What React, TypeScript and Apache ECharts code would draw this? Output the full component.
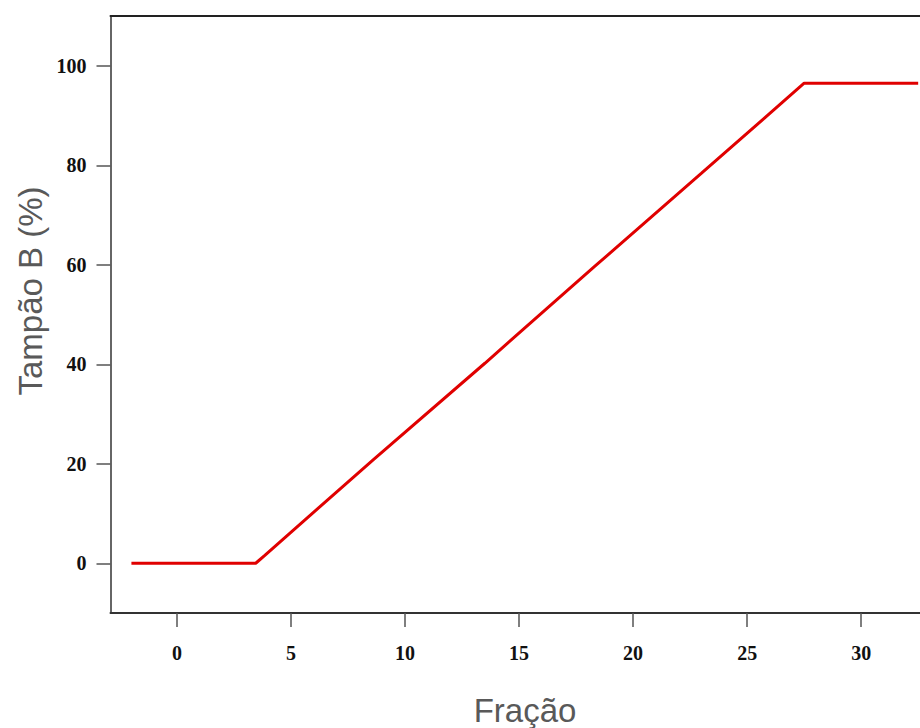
import React, { useEffect, useRef } from "react";
import * as echarts from "echarts";

const xValues = [-2, 3.45, 3.85, 8.6, 13.5, 18.3, 23.0, 27.5, 32.5];
const yValues = [0, 0, 1.6, 20.8, 40.2, 59.6, 78.4, 96.5, 96.5];
const xTicks = [0, 5, 10, 15, 20, 25, 30];
const yTicks = [0, 20, 40, 60, 80, 100];
const xName = "Fração";
const yName = "Tampão B (%)";

export default function App() {
  const ref = useRef<HTMLDivElement>(null);
  useEffect(() => {
    if (!ref.current) return;
    const chart = echarts.init(ref.current, null, { renderer: "svg" });
    const labelStyle = {
      fontFamily: "Liberation Serif",
      fontWeight: "bold" as const,
      fontSize: 20,
      color: "#111",
    };
    const nameStyle = {
      fontFamily: "Liberation Sans",
      fontSize: 33,
      fill: "#595959",
      textAlign: "center" as const,
      textVerticalAlign: "middle" as const,
    };
    chart.setOption({
      animation: false,
      backgroundColor: "#fff",
      grid: { left: 110.5, top: 16, right: 0, bottom: 115 },
      graphic: [
        { type: "text", x: 525, y: 710, style: { ...nameStyle, text: xName } },
        { type: "text", x: 30, y: 291, rotation: Math.PI / 2, style: { ...nameStyle, text: yName } },
      ],
      xAxis: [
        {
          type: "value",
          min: -2.917,
          max: 32.58,
          axisLine: { show: true, onZero: false, lineStyle: { color: "#333", width: 2 } },
          axisTick: { show: true, length: 14, customValues: xTicks, lineStyle: { color: "#555", width: 1.5 } },
          axisLabel: { ...labelStyle, margin: 30, customValues: xTicks },
          splitLine: { show: false },
        },
        {
          type: "value",
          position: "top",
          min: -2.917,
          max: 32.58,
          axisLine: { show: true, onZero: false, lineStyle: { color: "#222", width: 2 } },
          axisTick: { show: false },
          axisLabel: { show: false },
          splitLine: { show: false },
        },
      ],
      yAxis: {
        type: "value",
        min: -10,
        max: 110,
        axisLine: { show: true, onZero: false, lineStyle: { color: "#666", width: 2 } },
        axisTick: { show: true, length: 14, customValues: yTicks, lineStyle: { color: "#555", width: 1.5 } },
        axisLabel: { ...labelStyle, margin: 24, customValues: yTicks },
        splitLine: { show: false },
      },
      series: [
        {
          type: "line",
          xAxisIndex: 0,
          data: xValues.map((x, i) => [x, yValues[i]]),
          showSymbol: false,
          lineStyle: { color: "#e00000", width: 3 },
        },
      ],
    });
    return () => chart.dispose();
  }, []);
  return (
    <div
      ref={ref}
      style={{ position: "fixed", left: 0, top: 0, width: 920, height: 728 }}
    />
  );
}
